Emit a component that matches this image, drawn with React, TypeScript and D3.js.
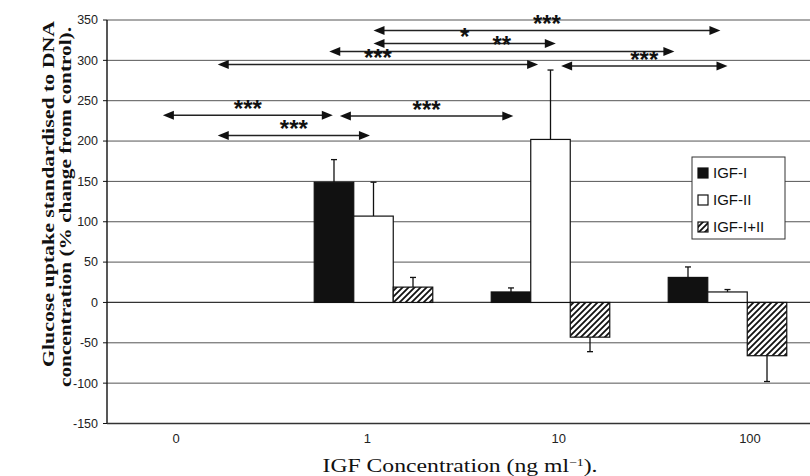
import * as d3 from "d3";

const categories = ["0", "1", "10", "100"];
const series = ["IGF-I", "IGF-II", "IGF-I+II"];

// mean % change and top of error bar, per series, per concentration
const igf1 = [0, 149, 13, 31];
const igf1Err = [0, 177, 18, 44];
const igf2 = [0, 107, 202, 13];
const igf2Err = [0, 149, 288, 16];
const igf12 = [0, 19, -43, -66];
const igf12Err = [0, 31, -61, -98];

const yTicks = [-150, -100, -50, 0, 50, 100, 150, 200, 250, 300, 350];

// significance arrows: from / to in group units (0 = first group centre), y in % units
const comparisons = [
  { from: 1.0, to: 2.96, y: 337, label: "***" },
  { from: 1.0, to: 2.03, y: 321, label: "*" },
  { from: 0.75, to: 2.7, y: 311, label: "**" },
  { from: 0.12, to: 1.93, y: 295, label: "***" },
  { from: 2.06, to: 3.0, y: 293, label: "***" },
  { from: -0.19, to: 0.77, y: 232, label: "***" },
  { from: 0.81, to: 1.79, y: 231, label: "***" },
  { from: 0.12, to: 0.98, y: 207, label: "***" },
];

const values = [igf1, igf2, igf12];
const errors = [igf1Err, igf2Err, igf12Err];

export default function App() {
  const width = 810;
  const height = 476;
  const left = 107;
  const right = 810;
  const top = 20;
  const bottom = 423.5;

  const y = d3.scaleLinear().domain([-150, 350]).range([bottom, top]);
  const x = d3.scaleBand().domain(categories).range([108, 816]).paddingInner(0);
  const inner = d3.scaleBand().domain(series).range([0, x.bandwidth()]).paddingInner(0).paddingOuter(0.74);
  const xLabel = d3.scalePoint().domain(categories).range([176, 750]);
  const centre = (c: string) => (x(c) as number) + x.bandwidth() / 2;
  const gx = d3.scaleLinear().domain([0, 3]).range([centre(categories[0]), centre(categories[3])]);

  const fills = ["#111", "#fff", "url(#hatch)"];
  const bw = inner.bandwidth();

  const arrowHead = (px: number, py: number, dir: number) =>
    `M${px},${py}L${px - dir * 11},${py - 4.5}L${px - dir * 11},${py + 4.5}Z`;

  return (
    <svg width={width} height={height} style={{ position: "absolute", left: 0, top: 0, background: "#fff" }}>
      <defs>
        <pattern id="hatch" width="6" height="6" patternUnits="userSpaceOnUse">
          <rect width="6" height="6" fill="#fff" />
          <path d="M-1,1 l2,-2 M0,6 l6,-6 M5,7 l2,-2" stroke="#111" strokeWidth="1.8" />
        </pattern>
      </defs>

      {/* gridlines */}
      {yTicks.map((t) => (
        <line key={t} x1={left} x2={right} y1={y(t)} y2={y(t)} stroke={t === 0 ? "#333" : "#555"} strokeWidth={t === 0 ? 1.3 : 1} />
      ))}

      {/* y axis */}
      <line x1={left} x2={left} y1={top} y2={bottom} stroke="#111" strokeWidth={1.4} />
      {yTicks.map((t) => (
        <g key={t}>
          <line x1={left - 4} x2={left} y1={y(t)} y2={y(t)} stroke="#111" />
          <text x={98} y={y(t)} dy="0.35em" textAnchor="end" fontFamily="Liberation Sans, Arial, sans-serif" fontSize={12.5} fill="#222">
            {t}
          </text>
        </g>
      ))}

      {/* x axis */}
      <line x1={left} x2={right} y1={bottom} y2={bottom} stroke="#333" strokeWidth={1.3} />
      {categories.map((c) => (
        <text key={c} x={xLabel(c)} y={443} textAnchor="middle" fontFamily="Liberation Sans, Arial, sans-serif" fontSize={13} fill="#222">
          {c}
        </text>
      ))}

      {/* bars */}
      {series.map((s, si) =>
        categories.map((c, ci) => {
          const v = values[si][ci];
          const e = errors[si][ci];
          const bx = (x(c) as number) + (inner(s) as number);
          const cx = bx + bw / 2;
          return (
            <g key={s + c}>
              {v !== 0 && (
                <>
                  <line x1={cx} x2={cx} y1={y(v)} y2={y(e)} stroke="#111" strokeWidth={1.3} />
                  <line x1={cx - 3} x2={cx + 3} y1={y(e)} y2={y(e)} stroke="#111" strokeWidth={1.3} />
                </>
              )}
              <rect
                x={bx}
                y={Math.min(y(v), y(0))}
                width={bw}
                height={Math.abs(y(v) - y(0))}
                fill={fills[si]}
                stroke="#111"
                strokeWidth={1.2}
              />
            </g>
          );
        })
      )}

      {/* significance */}
      {comparisons.map((d, i) => {
        const x1 = gx(d.from);
        const x2 = gx(d.to);
        const yy = y(d.y);
        return (
          <g key={i}>
            <line x1={x1 + 8} x2={x2 - 8} y1={yy} y2={yy} stroke="#222" strokeWidth={1.5} />
            <path d={arrowHead(x1, yy, -1)} fill="#111" />
            <path d={arrowHead(x2, yy, 1)} fill="#111" />
            <text x={(x1 + x2) / 2} y={yy + 2} textAnchor="middle" fontFamily="Liberation Sans, Arial, sans-serif" fontWeight="bold" fontSize={24} fill="#111">
              {d.label}
            </text>
          </g>
        );
      })}

      {/* legend */}
      <g transform="translate(692,157)">
        <rect width={93} height={82} fill="#fff" stroke="#333" strokeWidth={1} />
        {series.map((s, i) => (
          <g key={s} transform={`translate(6,${16 + i * 27})`}>
            <rect x={0} y={-5} width={10} height={10} fill={fills[i]} stroke="#111" strokeWidth={1.2} />
            <text x={15} y={0} dy="0.36em" fontFamily="Liberation Sans, Arial, sans-serif" fontSize={15} fill="#111">
              {s}
            </text>
          </g>
        ))}
      </g>

      {/* axis titles */}
      <g fontFamily="Liberation Serif, Times New Roman, serif" fontWeight="bold" fill="#111">
        <text transform="translate(54,194) rotate(-90)" textAnchor="middle" fontSize={16} textLength={346} lengthAdjust="spacingAndGlyphs">
          Glucose uptake standardised to DNA
        </text>
        <text transform="translate(71,207) rotate(-90)" textAnchor="middle" fontSize={16} textLength={360} lengthAdjust="spacingAndGlyphs">
          concentration (% change from control).
        </text>
        <text x={460} y={472} textAnchor="middle" fontSize={19} fontWeight="normal" textLength={275} lengthAdjust="spacingAndGlyphs">
          IGF Concentration (ng ml<tspan baselineShift="super" fontSize={11}>−1</tspan>).
        </text>
      </g>
    </svg>
  );
}
